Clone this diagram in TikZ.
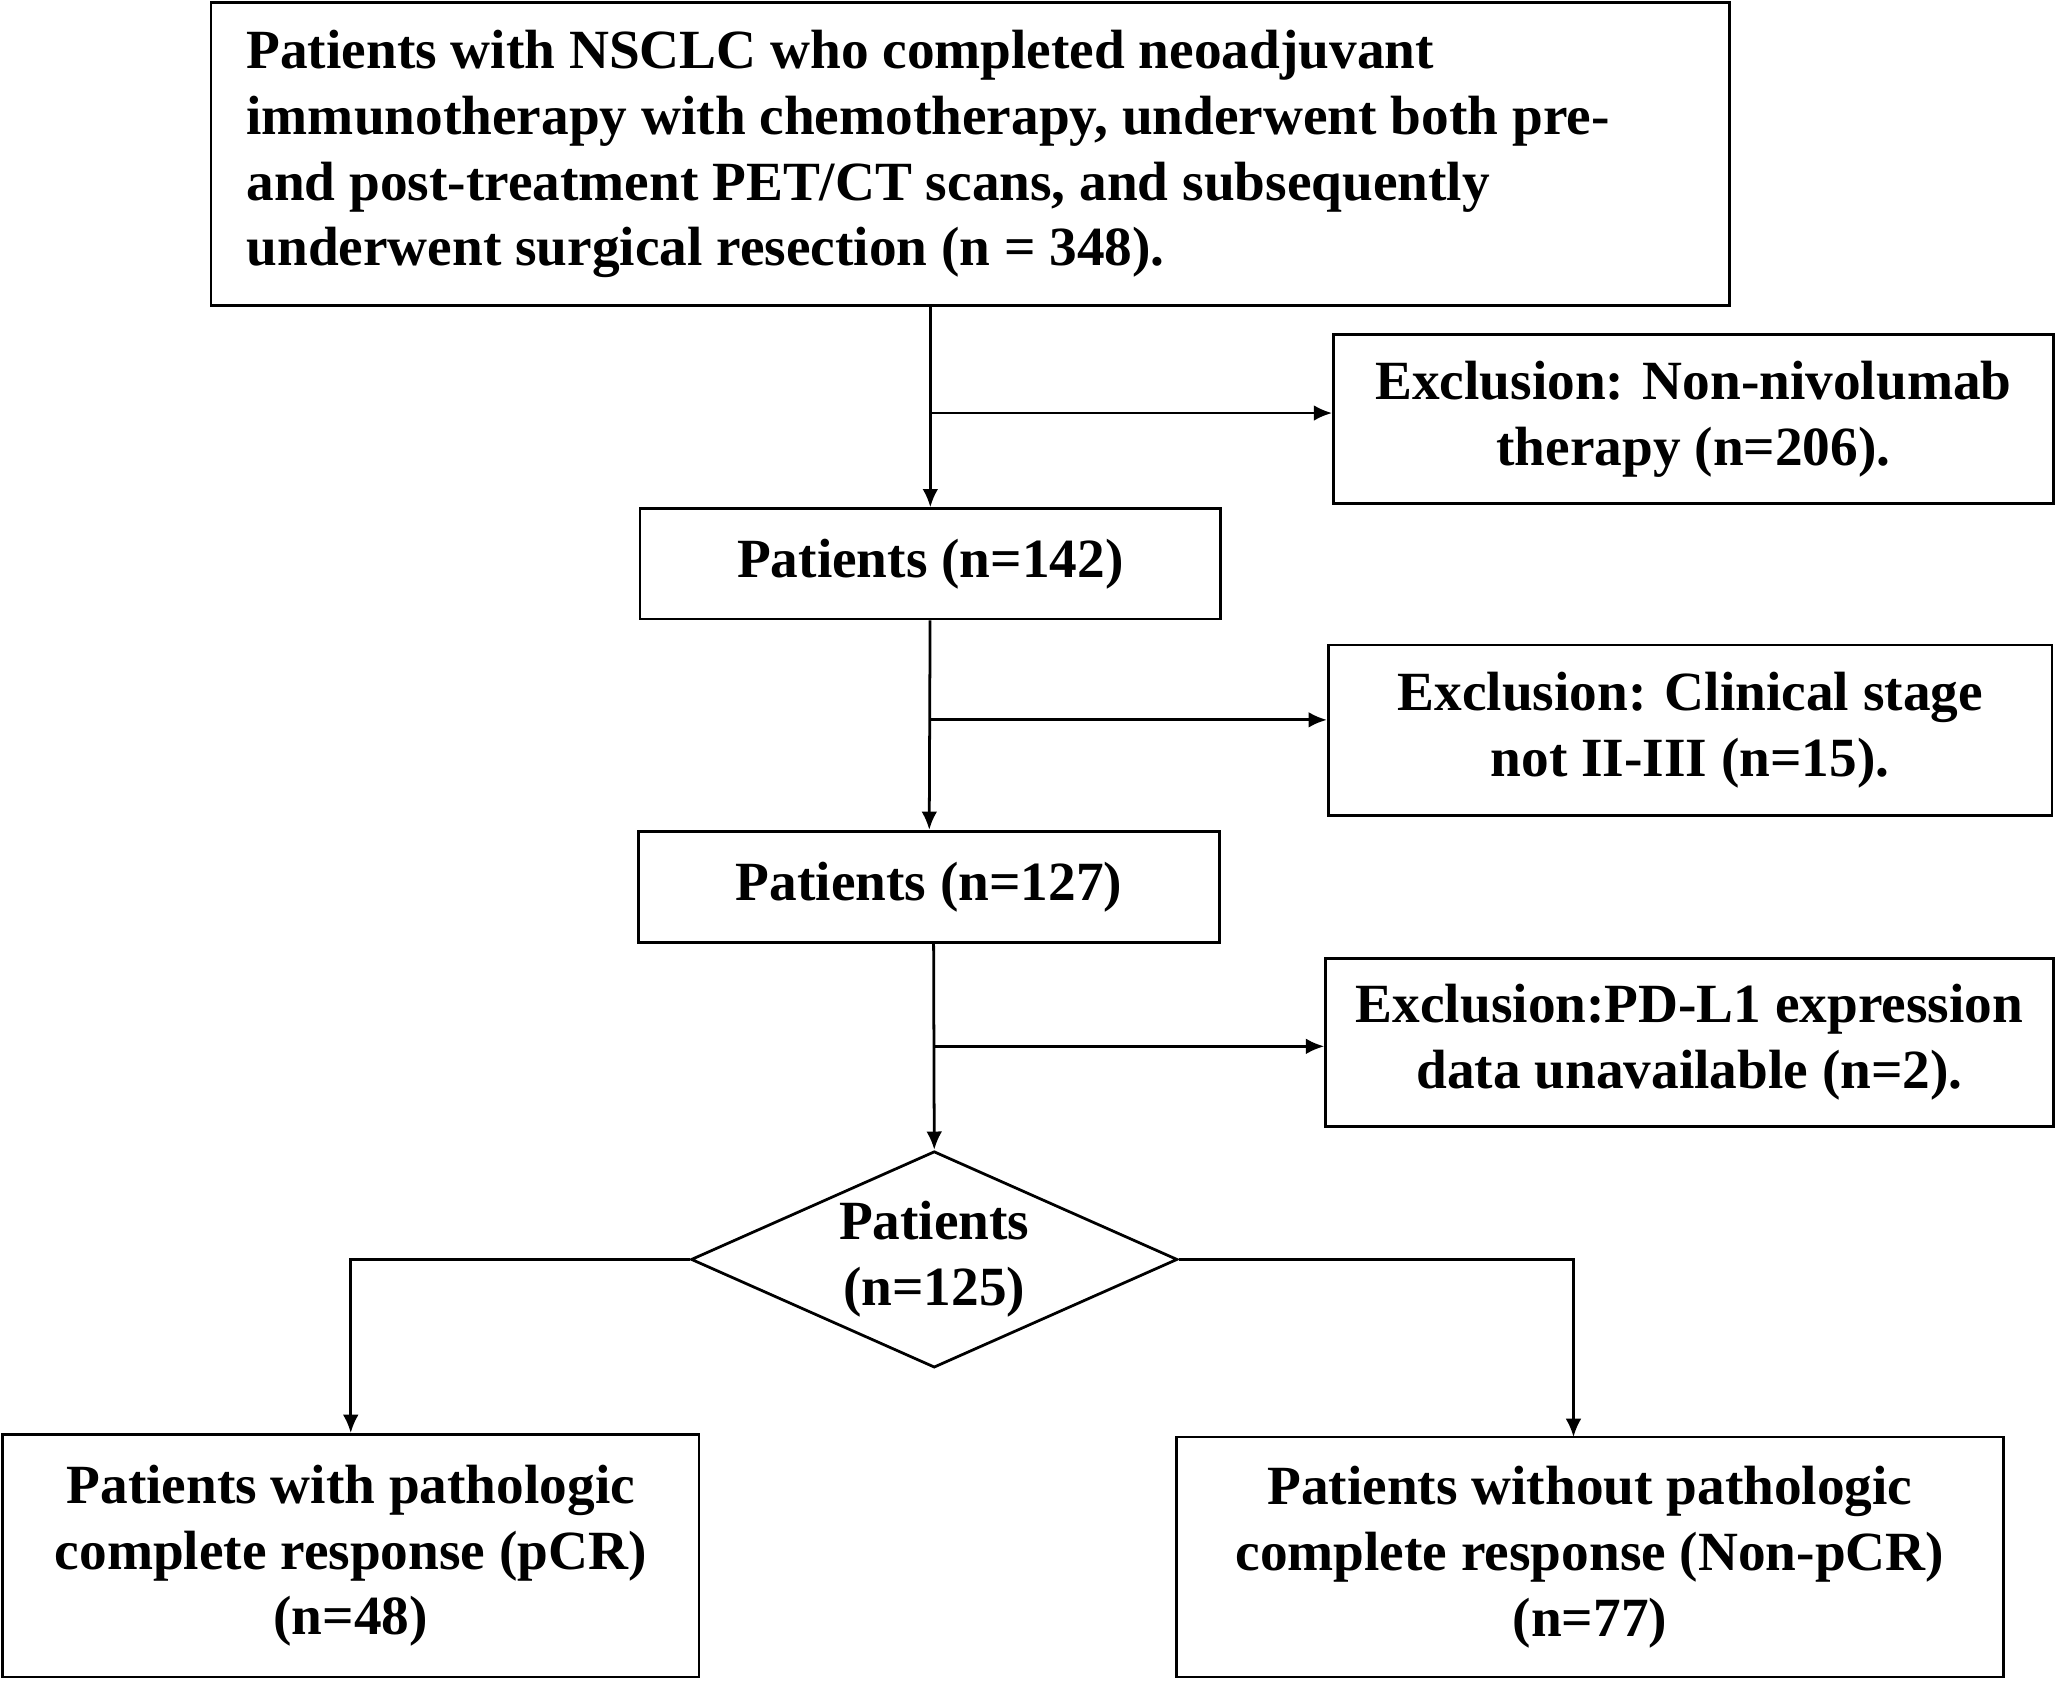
\documentclass[tikz,border=0pt]{standalone}
\usepackage{fontspec}
\setmainfont{Liberation Serif}
\usetikzlibrary{shapes.geometric,arrows.meta}
\tikzset{
  box/.style={draw, rectangle, line width=0.6pt, inner sep=0pt, align=center, font=\bfseries\fontsize{12}{14.3}\selectfont},
  dec/.style={draw, diamond, line width=0.6pt, inner sep=0pt, aspect=2.25, align=center, font=\bfseries\fontsize{12}{14.3}\selectfont},
  arr/.style={-{Latex[length=1.4mm,width=1.2mm]}, line width=0.6pt}
}
\begin{document}
\begin{tikzpicture}
  \useasboundingbox (0,0) rectangle (15.68,-12.83);
  \node[box, minimum width=11.58cm, minimum height=2.31cm, text width=11.04cm, align=flush left] (all) at (7.40,-1.175)
    {Patients with NSCLC who completed neoadjuvant\\immunotherapy with chemotherapy, underwent both pre-\\and post-treatment PET/CT scans, and subsequently\\underwent surgical resection (n = 348).};
  \node[box, minimum width=5.49cm, minimum height=1.29cm] (ex1) at (12.915,-3.195) {Exclusion: Non-nivolumab\\therapy (n=206).};
  \node[box, minimum width=4.43cm, minimum height=0.84cm] (p142) at (7.095,-4.30) {Patients (n=142)};
  \node[box, minimum width=5.52cm, minimum height=1.30cm] (ex2) at (12.89,-5.57) {Exclusion: Clinical stage\\not II-III (n=15).};
  \node[box, minimum width=4.43cm, minimum height=0.85cm] (p127) at (7.085,-6.765) {Patients (n=127)};
  \node[box, minimum width=5.55cm, minimum height=1.28cm] (ex3) at (12.885,-7.95) {Exclusion:PD-L1 expression\\data unavailable (n=2).};
  \node[dec, minimum width=3.71cm, minimum height=1.65cm] (p125) at (7.125,-9.605) {Patients\\(n=125)};
  \node[box, minimum width=5.31cm, minimum height=1.85cm] (pcr) at (2.675,-11.865) {Patients with pathologic\\complete response (pCR)\\(n=48)};
  \node[box, minimum width=6.31cm, minimum height=1.83cm] (npcr) at (12.125,-11.875) {Patients without pathologic\\complete response (Non-pCR)\\(n=77)};

  \coordinate (b1) at (7.095,-3.15);
  \coordinate (b2) at (7.095,-5.49);
  \coordinate (b3) at (7.12,-7.98);
  \draw[arr] (p142.north |- all.south) -- (p142);
  \draw[arr] (b1) -- (b1 -| ex1.west);
  \draw[arr] (p142) -- (p127);
  \draw[arr] (b2) -- (b2 -| ex2.west);
  \draw[arr] (7.12,-7.19) -- (p125.north);
  \draw[arr] (b3) -- (b3 -| ex3.west);
  \draw[arr] (p125.west) -| (pcr.north);
  \draw[arr] (p125.east) -| (12.00,-10.96);
\end{tikzpicture}
\end{document}
